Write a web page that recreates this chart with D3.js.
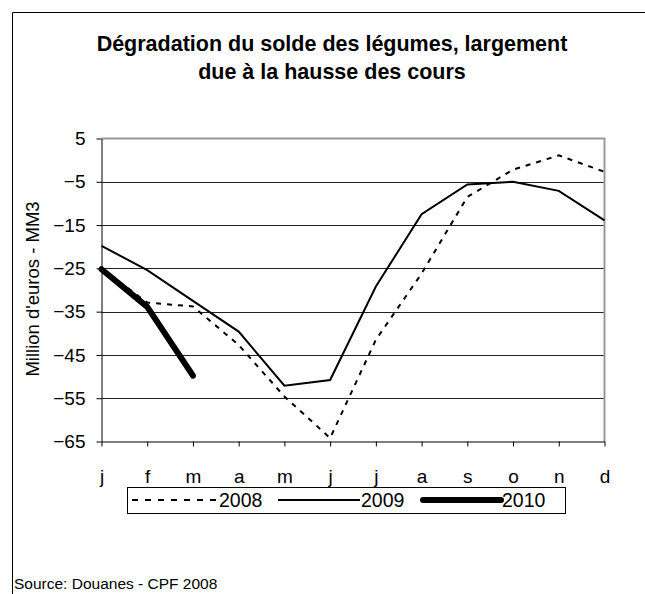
<!DOCTYPE html>
<html>
<head>
<meta charset="utf-8">
<script src="https://cdn.jsdelivr.net/npm/d3@7"></script>
<style>
  body { margin: 0; background: #fff; }
  svg { display: block; font-family: "Liberation Sans", Arial, sans-serif; }
</style>
</head>
<body>
<script>
const months = ["j", "f", "m", "a", "m", "j", "j", "a", "s", "o", "n", "d"]
const yTicks = [5, -5, -15, -25, -35, -45, -55, -65]
const v2008 = [-25, -32.9, -33.8, -42.7, -54.6, -64.2, -41.5, -26.2, -8.5, -2.2, 1.1, -2.7]
const v2009 = [-19.8, -25.4, -32.5, -39.6, -52.1, -50.8, -29.2, -12.5, -5.6, -5.0, -7.1, -13.9]
const v2010 = [-25.2, -33.9, -49.8]

const width = 645, height = 594
const margin = ({ top: 138.5, right: 40.5, bottom: 152.5, left: 101.5 })

const svg = d3.select('body').append('svg')
    .attr('width', width)
    .attr('height', height)

// outer frame (cropped)
svg.append('path')
    .attr('d', `M12.5,${height} V12.5 H${width}`)
    .attr('fill', 'none')
    .attr('stroke', '#000')

const x = d3.scalePoint()
    .domain(d3.range(months.length))
    .range([margin.left, width - margin.right])

const y = d3.scaleLinear()
    .domain([-65, 5])
    .range([height - margin.bottom, margin.top])

// title
svg.append('text')
    .attr('x', 332).attr('y', 51)
    .attr('text-anchor', 'middle')
    .attr('font-size', 21.5).attr('font-weight', 'bold')
    .text("Dégradation du solde des légumes, largement")
svg.append('text')
    .attr('x', 332).attr('y', 79)
    .attr('text-anchor', 'middle')
    .attr('font-size', 21.5).attr('font-weight', 'bold')
    .text("due à la hausse des cours")

// gridlines
svg.append('g')
    .selectAll('line')
    .data(yTicks.filter(d => d !== -65 && d !== 5))
    .join('line')
    .attr('x1', margin.left).attr('x2', width - margin.right)
    .attr('y1', d => Math.round(y(d)) + 0.5).attr('y2', d => Math.round(y(d)) + 0.5)
    .attr('stroke', '#222')

// plot border top/right
svg.append('path')
    .attr('d', `M${margin.left},${y(5)} H${width - margin.right} V${y(-65)}`)
    .attr('fill', 'none')
    .attr('stroke', '#999')
    .attr('stroke-width', 2)

// y axis
svg.append('g')
    .attr('transform', `translate(${margin.left},0)`)
    .call(d3.axisLeft(y).tickValues(yTicks).tickSize(5).tickPadding(11).tickSizeOuter(0))
    .call(g => g.selectAll('text').attr('font-size', 19).attr('fill', '#000').attr('font-family', null))
    .call(g => g.selectAll('line, path').attr('stroke', '#000'))

// x axis
svg.append('g')
    .attr('transform', `translate(0,${height - margin.bottom})`)
    .call(d3.axisBottom(x).tickFormat(i => months[i]).tickSize(5).tickPadding(23).tickSizeOuter(0))
    .call(g => g.selectAll('text').attr('font-size', 19).attr('fill', '#000').attr('font-family', null))
    .call(g => g.selectAll('line, path').attr('stroke', '#000'))

// y title
svg.append('text')
    .attr('transform', `translate(39,289) rotate(-90)`)
    .attr('text-anchor', 'middle')
    .attr('font-size', 18.5)
    .text("Million d'euros - MM3")

const line = d3.line()
    .x((d, i) => x(i))
    .y(d => y(d))

svg.append('path')
    .datum(v2008)
    .attr('d', line)
    .attr('fill', 'none')
    .attr('stroke', '#000')
    .attr('stroke-width', 2)
    .attr('stroke-dasharray', '5,6')

svg.append('path')
    .datum(v2009)
    .attr('d', line)
    .attr('fill', 'none')
    .attr('stroke', '#000')
    .attr('stroke-width', 2)

svg.append('path')
    .datum(v2010)
    .attr('d', line)
    .attr('fill', 'none')
    .attr('stroke', '#000')
    .attr('stroke-width', 6)
    .attr('stroke-linecap', 'round')
    .attr('stroke-linejoin', 'round')

// legend
const legend = svg.append('g')
legend.append('rect')
    .attr('x', 127.5).attr('y', 487.5)
    .attr('width', 438).attr('height', 26)
    .attr('fill', '#fff').attr('stroke', '#000')

const legendItems = [
    { label: "2008", x1: 132, x2: 218, w: 2, dash: '6,7', cap: 'butt' },
    { label: "2009", x1: 278, x2: 360, w: 2, dash: null, cap: 'butt' },
    { label: "2010", x1: 423, x2: 501, w: 6, dash: null, cap: 'round' }
]
legendItems.forEach(d => {
    legend.append('line')
        .attr('x1', d.x1).attr('x2', d.x2)
        .attr('y1', 500).attr('y2', 500)
        .attr('stroke', '#000')
        .attr('stroke-width', d.w)
        .attr('stroke-dasharray', d.dash)
        .attr('stroke-linecap', d.cap)
    legend.append('text')
        .attr('x', d.x2 + 1).attr('y', 507)
        .attr('font-size', 19.5)
        .text(d.label)
})

// source
svg.append('text')
    .attr('x', 14).attr('y', 589)
    .attr('font-size', 15.5)
    .text("Source: Douanes - CPF 2008")
</script>
</body>
</html>
